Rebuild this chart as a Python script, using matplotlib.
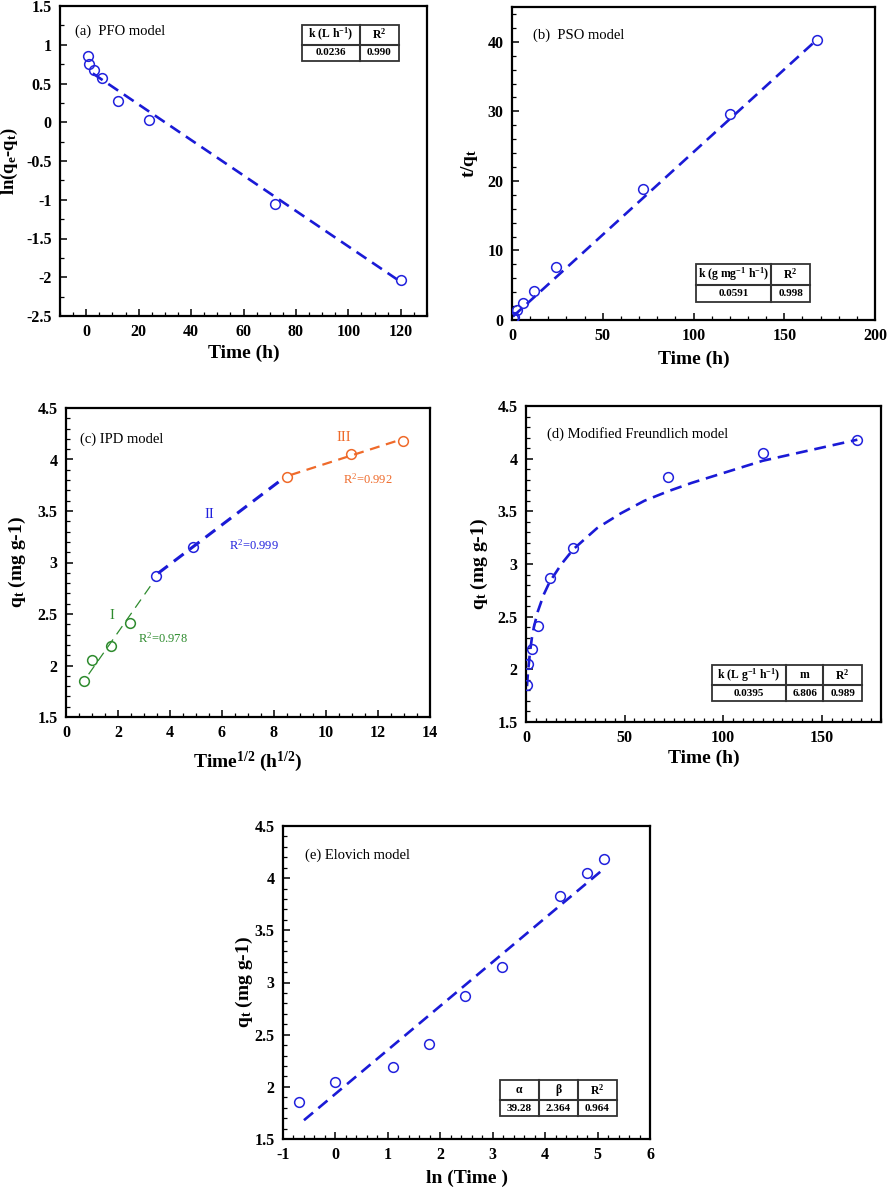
import matplotlib
matplotlib.use("Agg")
import matplotlib.pyplot as plt
from matplotlib.patches import Rectangle
from matplotlib.ticker import MultipleLocator

plt.rcParams['font.family'] = ['Liberation Serif', 'DejaVu Serif']
plt.rcParams['mathtext.fontset'] = 'custom'
plt.rcParams['mathtext.rm'] = 'Liberation Serif'
plt.rcParams['mathtext.bf'] = 'Liberation Serif:bold'
plt.rcParams['mathtext.it'] = 'Liberation Serif:italic'
plt.rcParams['axes.unicode_minus'] = False

# ---------------- data ----------------
time_h = [0.5, 1, 3, 6, 12, 24, 72, 120, 168]
qt = [1.85, 2.05, 2.19, 2.41, 2.87, 3.15, 3.83, 4.05, 4.18]

# (a) PFO
pfo_t = [0.5, 1, 3, 6, 12, 24, 72, 120]
pfo_y = [0.85, 0.75, 0.68, 0.57, 0.28, 0.03, -1.05, -2.04]
pfo_fit_x = [2.5, 120]
pfo_fit_y = [0.63, -2.06]

# (b) PSO
pso_y = [0.27, 0.49, 1.37, 2.49, 4.18, 7.62, 18.8, 29.6, 40.2]
pso_fit_x = [0.5, 168]
pso_fit_y = [0.5, 40.3]

# (c) IPD
sqrt_t = [0.71, 1.0, 1.73, 2.45, 3.46, 4.90, 8.49, 10.95, 12.96]
ipd1_fit_x = [0.87, 3.41]
ipd1_fit_y = [1.915, 2.83]
ipd2_fit_x = [3.54, 8.32]
ipd2_fit_y = [2.895, 3.81]
ipd3_fit_x = [8.64, 12.84]
ipd3_fit_y = [3.85, 4.19]

# (d) Modified Freundlich (curve)
mf_fit_x = [0.5, 1, 2, 3, 4, 6, 9, 12, 18, 24, 36, 48, 60, 72, 84, 96, 108, 120, 144, 168]
mf_fit_y = [1.84, 1.97, 2.16, 2.30, 2.40, 2.55, 2.71, 2.83, 3.00, 3.14, 3.34, 3.48, 3.60, 3.69, 3.77, 3.84, 3.91, 3.98, 4.08, 4.18]

# (e) Elovich
ln_t = [-0.69, 0.0, 1.10, 1.79, 2.48, 3.18, 4.28, 4.79, 5.12]
elo_fit_x = [-0.6, 5.12]
elo_fit_y = [1.68, 4.09]

# tables
tab_a_head = [r"k (L h$^{\mathbf{-1}}$)", r"R$^{\mathbf{2}}$"]
tab_a_vals = ["0.0236", "0.990"]
tab_b_head = [r"k (g mg$^{\mathbf{-1}}$ h$^{\mathbf{-1}}$)", r"R$^{\mathbf{2}}$"]
tab_b_vals = ["0.0591", "0.998"]
tab_d_head = [r"k (L g$^{\mathbf{-1}}$ h$^{\mathbf{-1}}$)", "m", r"R$^{\mathbf{2}}$"]
tab_d_vals = ["0.0395", "6.806", "0.989"]
tab_e_head = ["α", "β", r"R$^{\mathbf{2}}$"]
tab_e_vals = ["39.28", "2.364", "0.964"]

# ---------------- style ----------------
W, H = 889, 1193
fig = plt.figure(figsize=(W / 100, H / 100), dpi=100)

BLUE = '#1a1ad6'
MBLUE = '#2222dd'
GREEN = '#2e8b2e'
ORANGE = '#ef6a2a'
DASH = (4.5, 2.6)


def make_ax(l, r, t, b):
    ax = fig.add_axes([l / W, 1 - b / H, (r - l) / W, (b - t) / H])
    for s in ax.spines.values():
        s.set_linewidth(1.6)
    ax.tick_params(which='both', direction='in', top=False, right=False,
                   labelsize=11.5, pad=6)
    ax.tick_params(which='major', length=5, width=1.1)
    ax.tick_params(which='minor', length=2.8, width=0.9)
    return ax


def bold_ticks(ax):
    for lab in ax.get_xticklabels() + ax.get_yticklabels():
        lab.set_fontweight('bold')


def circles(ax, x, y, color):
    ax.plot(x, y, linestyle='none', marker='o', markersize=7, markerfacecolor='none',
            markeredgecolor=color, markeredgewidth=1.1, zorder=4)


def draw_table(ax, x0, y0, w, h, colw, rowh, head, vals, fsh=8.5, fsv=8):
    ec = '#333333'
    ax.add_patch(Rectangle((x0, y0), w, h, transform=ax.transAxes, fill=True,
                           facecolor='white', edgecolor=ec, lw=1.3, zorder=5))
    ysplit = y0 + h * (1 - rowh)
    ax.plot([x0, x0 + w], [ysplit, ysplit], transform=ax.transAxes, color=ec, lw=1.5, zorder=6)
    xs = [x0]
    for c in colw:
        xs.append(xs[-1] + c * w)
    for xv in xs[1:-1]:
        ax.plot([xv, xv], [y0, y0 + h], transform=ax.transAxes, color=ec, lw=1.5, zorder=6)
    for i in range(len(head)):
        xc = (xs[i] + xs[i + 1]) / 2
        ax.text(xc, (ysplit + y0 + h) / 2, head[i], transform=ax.transAxes, ha='center',
                va='center', fontsize=fsh, fontweight='bold', zorder=7)
        ax.text(xc, (y0 + ysplit) / 2, vals[i], transform=ax.transAxes, ha='center',
                va='center', fontsize=fsv, fontweight='bold', zorder=7)


LABFS = 14

# ---------------- (a) PFO ----------------
ax = make_ax(60, 427, 6, 316)
ax.plot(pfo_fit_x, pfo_fit_y, color=BLUE, lw=1.9, dashes=DASH)
circles(ax, pfo_t, pfo_y, MBLUE)
ax.set_xlim(-10, 130)
ax.set_ylim(-2.5, 1.5)
ax.xaxis.set_minor_locator(MultipleLocator(5))
ax.yaxis.set_minor_locator(MultipleLocator(0.25))
ax.set_yticks([-2.5, -2, -1.5, -1, -0.5, 0, 0.5, 1, 1.5])
ax.set_yticklabels(['-2.5', '-2', '-1.5', '-1', '-0.5', '0', '0.5', '1', '1.5'])
ax.set_xticks([0, 20, 40, 60, 80, 100, 120])
bold_ticks(ax)
ax.set_xlabel("Time (h)", fontsize=LABFS, fontweight='bold')
ax.set_ylabel(r"ln(q$_{\mathbf{e}}$-q$_{\mathbf{t}}$)", fontsize=13.5, fontweight='bold')
ax.xaxis.set_label_coords(0.5, -0.094)
ax.yaxis.set_label_coords(-0.108, 0.5)
ax.text(0.041, 0.92, "(a)  PFO model", transform=ax.transAxes, fontsize=10.5, va='center')
draw_table(ax, 0.659, 0.823, 0.264, 0.116, [0.6, 0.4], 0.55, tab_a_head, tab_a_vals)

# ---------------- (b) PSO ----------------
ax = make_ax(512, 875, 7, 320)
ax.plot(pso_fit_x, pso_fit_y, color=BLUE, lw=1.9, dashes=DASH)
circles(ax, time_h, pso_y, MBLUE)
ax.set_xlim(0, 200)
ax.set_ylim(0, 45)
ax.set_xticks([0, 50, 100, 150, 200])
ax.xaxis.set_minor_locator(MultipleLocator(10))
ax.set_yticks([0, 10, 20, 30, 40])
ax.yaxis.set_minor_locator(MultipleLocator(2))
bold_ticks(ax)
ax.set_xlabel("Time (h)", fontsize=LABFS, fontweight='bold')
ax.set_ylabel(r"t/q$_{\mathbf{t}}$", fontsize=LABFS, fontweight='bold')
ax.xaxis.set_label_coords(0.5, -0.099)
ax.yaxis.set_label_coords(-0.088, 0.5)
ax.text(0.058, 0.91, "(b)  PSO model", transform=ax.transAxes, fontsize=10.5, va='center')
draw_table(ax, 0.506, 0.058, 0.315, 0.121, [0.66, 0.34], 0.55, tab_b_head, tab_b_vals)

# ---------------- (c) IPD ----------------
ax = make_ax(66, 430, 408, 717)
ax.plot(ipd1_fit_x, ipd1_fit_y, color=GREEN, lw=0.9, dashes=(8, 5))
ax.plot(ipd2_fit_x, ipd2_fit_y, color=BLUE, lw=2.2, dashes=(4, 2.5))
ax.plot(ipd3_fit_x, ipd3_fit_y, color=ORANGE, lw=1.6, dashes=(4.5, 3))
circles(ax, sqrt_t[:4], qt[:4], GREEN)
circles(ax, sqrt_t[4:6], qt[4:6], MBLUE)
circles(ax, sqrt_t[6:], qt[6:], ORANGE)
ax.set_xlim(0, 14)
ax.set_ylim(1.5, 4.5)
ax.set_xticks([0, 2, 4, 6, 8, 10, 12, 14])
ax.xaxis.set_minor_locator(MultipleLocator(0.5))
ax.yaxis.set_minor_locator(MultipleLocator(0.1))
ax.set_yticks([1.5, 2, 2.5, 3, 3.5, 4, 4.5])
ax.set_yticklabels(['1.5', '2', '2.5', '3', '3.5', '4', '4.5'])
bold_ticks(ax)
ax.set_xlabel(r"Time$^{\mathbf{1/2}}$ (h$^{\mathbf{1/2}}$)", fontsize=LABFS, fontweight='bold')
ax.set_ylabel(r"q$_{\mathbf{t}}$ (mg g-1)", fontsize=LABFS, fontweight='bold')
ax.xaxis.set_label_coords(0.5, -0.107)
ax.yaxis.set_label_coords(-0.104, 0.5)
ax.text(0.038, 0.90, "(c) IPD model", transform=ax.transAxes, fontsize=10.5, va='center')
ax.text(1.76, 2.49, "I", color=GREEN, fontsize=10.5, ha='center', va='center')
ax.text(2.78, 2.26, r"R$^2$=0.978", color=GREEN, fontsize=9, ha='left', va='center')
ax.text(5.52, 3.47, "II", color=MBLUE, fontsize=10.5, ha='center', va='center')
ax.text(6.28, 3.17, r"R$^2$=0.999", color=MBLUE, fontsize=9, ha='left', va='center')
ax.text(10.67, 4.21, "III", color=ORANGE, fontsize=10.5, ha='center', va='center')
ax.text(10.67, 3.81, r"R$^2$=0.992", color=ORANGE, fontsize=9, ha='left', va='center')

# ---------------- (d) Modified Freundlich ----------------
ax = make_ax(526, 881, 406, 722)
ax.plot(mf_fit_x, mf_fit_y, color=BLUE, lw=1.9, dashes=DASH)
circles(ax, time_h, qt, MBLUE)
ax.set_xlim(0, 180)
ax.set_ylim(1.5, 4.5)
ax.set_xticks([0, 50, 100, 150])
ax.xaxis.set_minor_locator(MultipleLocator(5))
ax.set_yticks([1.5, 2, 2.5, 3, 3.5, 4, 4.5])
ax.set_yticklabels(['1.5', '2', '2.5', '3', '3.5', '4', '4.5'])
ax.yaxis.set_minor_locator(MultipleLocator(0.1))
bold_ticks(ax)
ax.set_xlabel("Time (h)", fontsize=LABFS, fontweight='bold')
ax.set_ylabel(r"q$_{\mathbf{t}}$ (mg g-1)", fontsize=LABFS, fontweight='bold')
ax.xaxis.set_label_coords(0.5, -0.089)
ax.yaxis.set_label_coords(-0.10, 0.5)
ax.text(0.059, 0.911, "(d) Modified Freundlich model", transform=ax.transAxes, fontsize=10.5, va='center')
draw_table(ax, 0.523, 0.066, 0.423, 0.114, [0.495, 0.249, 0.256], 0.56, tab_d_head, tab_d_vals)

# ---------------- (e) Elovich ----------------
ax = make_ax(283, 650, 826, 1139)
ax.plot(elo_fit_x, elo_fit_y, color=BLUE, lw=1.9, dashes=DASH)
circles(ax, ln_t, qt, MBLUE)
ax.set_xlim(-1, 6)
ax.set_ylim(1.5, 4.5)
ax.set_xticks([-1, 0, 1, 2, 3, 4, 5, 6])
ax.xaxis.set_minor_locator(MultipleLocator(0.2))
ax.set_yticks([1.5, 2, 2.5, 3, 3.5, 4, 4.5])
ax.set_yticklabels(['1.5', '2', '2.5', '3', '3.5', '4', '4.5'])
ax.yaxis.set_minor_locator(MultipleLocator(0.1))
bold_ticks(ax)
ax.set_xlabel("ln (Time )", fontsize=LABFS, fontweight='bold')
ax.set_ylabel(r"q$_{\mathbf{t}}$ (mg g-1)", fontsize=LABFS, fontweight='bold')
ax.xaxis.set_label_coords(0.5, -0.099)
ax.yaxis.set_label_coords(-0.076, 0.5)
ax.text(0.06, 0.907, "(e) Elovich model", transform=ax.transAxes, fontsize=10.5, va='center')
draw_table(ax, 0.591, 0.073, 0.318, 0.115, [1 / 3, 1 / 3, 1 / 3], 0.55, tab_e_head, tab_e_vals)

fig.savefig("out.png", dpi=100)
